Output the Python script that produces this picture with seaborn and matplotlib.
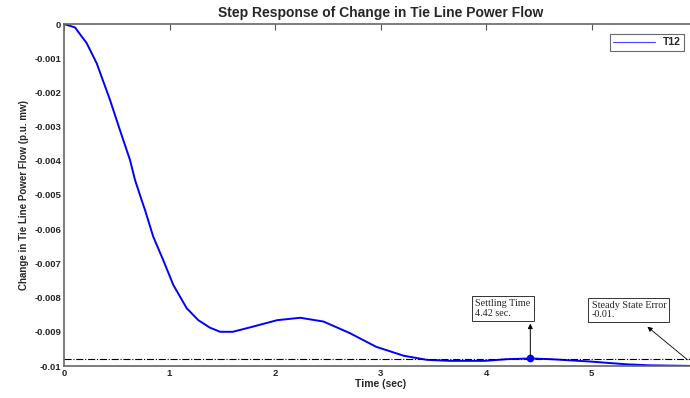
import numpy as np
import pandas as pd
import matplotlib
matplotlib.use('Agg')
import matplotlib.pyplot as plt
import seaborn as sns

# step response
time_s = [0, 0.104, 0.215, 0.31, 0.436, 0.53, 0.626, 0.673, 0.736, 0.768, 0.846,
          0.94, 1.036, 1.163, 1.273, 1.384, 1.48, 1.60, 1.79, 2.02, 2.24, 2.46,
          2.71, 2.96, 3.22, 3.44, 3.66, 3.99, 4.2, 4.42, 4.61, 4.99, 5.33, 5.55, 6.0]
t12 = [0, -0.0001, -0.00056, -0.00115, -0.00222, -0.0031, -0.00398, -0.00456,
       -0.00515, -0.00544, -0.00622, -0.0069, -0.00763, -0.00831, -0.00866,
       -0.00888, -0.0090, -0.0090, -0.00885, -0.00866, -0.00859, -0.0087,
       -0.00904, -0.00944, -0.0097, -0.00982, -0.00985, -0.00985, -0.0098,
       -0.00978, -0.0098, -0.00987, -0.00995, -0.00998, -0.01]
settle_t = 4.42
settle_v = -0.00978
final_band = -0.0098
yticks = [0, -0.001, -0.002, -0.003, -0.004, -0.005, -0.006, -0.007, -0.008, -0.009, -0.01]
ytick_labels = ['0', '-0.001', '-0.002', '-0.003', '-0.004', '-0.005', '-0.006',
                '-0.007', '-0.008', '-0.009', '-0.01']
xticks = [0, 1, 2, 3, 4, 5]

df = pd.DataFrame({'time': time_s, 'T12': t12})

sns.set_style('white')
plt.rcParams['font.family'] = ['Liberation Sans', 'DejaVu Sans']

fig = plt.figure(figsize=(6.9, 3.98), dpi=100)
ax = fig.add_axes([64/690, 1-366/398, 633/690, 342/398])

sns.lineplot(data=df, x='time', y='T12', color='#0000ff', linewidth=1.4, ax=ax, label='T12')
ax.axhline(final_band, color='black', linestyle='-.', linewidth=0.8)
ax.plot([settle_t], [settle_v], 'o', color='#0000ff', markersize=4.5)

ax.set_xlim(0, 6)
ax.set_ylim(-0.01, 0)
ax.set_xticks(xticks)
ax.set_xticklabels([str(x) for x in xticks])
ax.set_yticks(yticks)
ax.set_yticklabels(ytick_labels)
ax.tick_params(direction='in', length=4, width=0.8, color='#555555', labelsize=6.8,
               top=True, right=True, pad=2)
for lab in ax.get_xticklabels() + ax.get_yticklabels():
    lab.set_fontweight('bold')
for sp in ax.spines.values():
    sp.set_color('#666666')
    sp.set_linewidth(1.2)

ax.set_title('Step Response of Change in Tie Line Power Flow', fontsize=10,
             fontweight='bold', pad=5)
ax.set_xlabel('Time (sec)', fontsize=7.5, fontweight='bold', labelpad=1)
ax.set_ylabel('Change in Tie Line Power Flow (p.u. mw)', fontsize=7, fontweight='bold', labelpad=4)

# annotations
ax.annotate('', xy=(settle_t, -0.00868), xytext=(settle_t, settle_v),
            arrowprops=dict(arrowstyle='-|>', color='black', lw=0.7, mutation_scale=7))
ax.text(3.9, -0.00831, 'Settling Time\n4.42 sec.', family='Liberation Serif', fontsize=7.3,
        va='center', ha='left', linespacing=1.1,
        bbox=dict(boxstyle='square,pad=0.3', fc='white', ec='#333333', lw=0.7))
ax.annotate('', xy=(5.51, -0.0088), xytext=(5.93, -0.00987),
            arrowprops=dict(arrowstyle='-|>', color='black', lw=0.6, mutation_scale=7))
ax.text(5.0, -0.00836, 'Steady State Error\n-0.01.', family='Liberation Serif', fontsize=7.3,
        va='center', ha='left', linespacing=1.1,
        bbox=dict(boxstyle='square,pad=0.3', fc='white', ec='#333333', lw=0.7))

leg = ax.legend(loc='upper left', bbox_to_anchor=(541/633, 0.985), fontsize=7.5, frameon=True,
                fancybox=False, borderpad=0.3, handlelength=4, handletextpad=0.8)
leg.get_frame().set_edgecolor('#444444')
leg.get_frame().set_linewidth(0.8)
leg.get_lines()[0].set_linewidth(0.8)
leg.get_lines()[0].set_color('#4444ff')
for txt in leg.get_texts():
    txt.set_fontweight('bold')

fig.savefig('out.png', dpi=100)
